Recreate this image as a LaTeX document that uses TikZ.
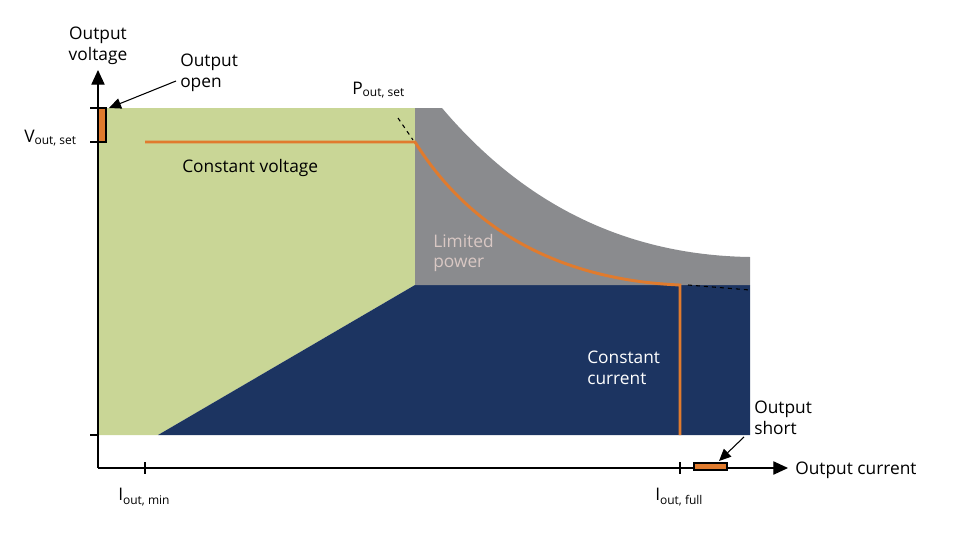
\documentclass[tikz,border=0pt]{standalone}
\usepackage{fontspec}
\setmainfont{Open Sans}
\usetikzlibrary{arrows.meta}
\definecolor{cvgreen}{HTML}{C9D696}
\definecolor{ccblue}{HTML}{1C3461}
\definecolor{lpgray}{HTML}{8A8B8E}
\definecolor{setorange}{HTML}{E07B2E}
\definecolor{lptext}{HTML}{D9C8C4}
\begin{document}
\begin{tikzpicture}[x=0.75pt,y=-0.75pt,
		lbl/.style = {inner sep=0pt, font=\fontsize{13}{15.5}\selectfont, align=left},
		axis/.style = {thick, -{Triangle[length=11pt,width=10pt]}},
		callout/.style = {thick, -{Triangle[length=9pt,width=8pt]}},
		limitbox/.style = {thick, fill=setorange}]
	\useasboundingbox (0,0) rectangle (960,533);
	
	% regions
	\fill[cvgreen] (98,108) -- (415,108) -- (415,285) -- (158,435) -- (98,435) -- cycle;
	\fill[ccblue] (158,435) -- (415,285) -- (750,285) -- (750,435) -- cycle;
	\fill[lpgray] (415,108) -- (442,108) .. controls (520,200) and (620,255) .. (750,257)
		-- (750,285) -- (415,285) -- cycle;
	
	% operating curve
	\draw[setorange, line width=2.2pt] (145,142) -- (415,142)
		.. controls (470,230) and (560,280) .. (680,285) -- (680,435);
	\draw[dashed, thick] (398,118) -- (413,140);
	\draw[dashed, thick] (688,285) -- (750,290);
	
	% axes
	\coordinate (o) at (98,468);
	\coordinate (ytip) at (98,70);
	\coordinate (xtip) at (788,468);
	\draw[axis] (o) -- (ytip);
	\draw[axis] (o) -- (xtip);
	\foreach \y in {108,142,435} \draw[thick] (90,\y) -- (98,\y);
	\foreach \x in {145,680} \draw[thick] (\x,462) -- (\x,474);
	\draw[limitbox] (98,108) rectangle (106,142);
	\draw[limitbox] (694,463) rectangle (727,470);
	
	% labels
	\node[lbl, align=center] (yl) at (98,46) {Output\\voltage};
	\node[lbl, anchor=west] (xl) at (795,470) {Output current};
	\node[lbl, anchor=west] (open) at (180,73) {Output\\open};
	\node[lbl, anchor=west] (short) at (754,418) {Output\\short};
	\node[lbl, anchor=west] (cv) at (182,168) {Constant voltage};
	\node[lbl, anchor=west, text=lptext] (lp) at (433,253) {Limited\\power};
	\node[lbl, anchor=west, text=white] (cc) at (587,368) {Constant\\current};
	\node[lbl, anchor=west] (pset) at (352,90) {P\textsubscript{\fontsize{9}{10}\selectfont out, set}};
	\node[lbl, anchor=west] (vset) at (24,138) {V\textsubscript{\fontsize{9}{10}\selectfont out, set}};
	\node[lbl, anchor=west] (imin) at (118,497) {I\textsubscript{\fontsize{9}{10}\selectfont out, min}};
	\node[lbl, anchor=west] (ifull) at (655,497) {I\textsubscript{\fontsize{9}{10}\selectfont out, full}};
	
	\coordinate (openpt) at (109,108);
	\coordinate (shortpt) at (719,461);
	\draw[callout] (open.west) ++(-4,8) -- (openpt);
	\draw[callout] (short.south west) ++(-10,2) -- (shortpt);
\end{tikzpicture}
\end{document}
